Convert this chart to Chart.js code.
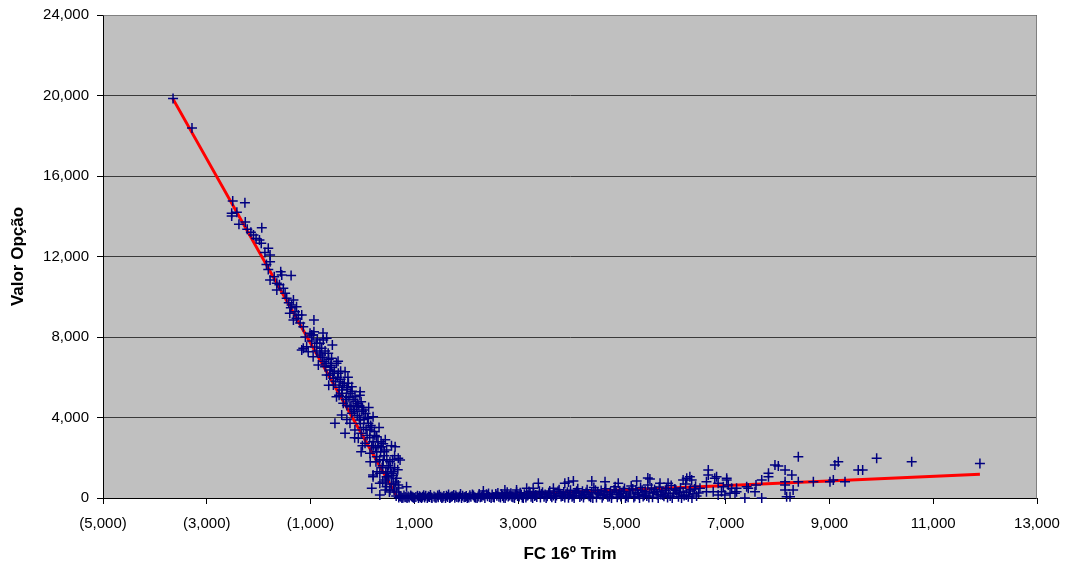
<!DOCTYPE html>
<html>
<head>
<meta charset="utf-8">
<title>Valor Opção vs FC 16º Trim</title>
<script src="https://cdn.jsdelivr.net/npm/chart.js@4/dist/chart.umd.min.js"></script>
<style>
  html, body { margin: 0; padding: 0; background: #ffffff; }
  #wrap { width: 1065px; height: 565px; position: relative; }
</style>
</head>
<body>
<div id="wrap"><canvas id="chart" width="1065" height="565"></canvas></div>
<script>
// Simulated option values against the 16th-quarter cash flow (steep, in-the-money side)
const steepX = [-3650,-3285,-2500,-2265,-2520,-2520,-2258,-2220,-1940,-2100,-1985,-1950,-1815,-1780,-1780,-1815,-1575,-1555,-1375,-1780,
  -1650,-1650,-1525,-1490,-1460,-1330,-1365,-1270,-1300,-1235,-1400,-1330,-1170,-1270,-935,-1140,-935,-980,-1075,-880,
  -1010,-950,-1140,-1045,-1170,-755,-690,-820,-785,-660,-950,-850,-595,-500,-720,-625,-335,-465,-690,-560,
  -430,-270,-560,-400,-205,-45,-500,-305,-145,-25,-370,-240,-110,25,-400,-205,205,-530,-240,-45,
  115,-335,-145,-25,145,275,-80,50,205,370,-25,145,275,465,630,400,530,690,725,205,
  335,465,595,660,180,335,465,530,335,850,690,205,
  -880,-800,-740,-610,-540,-420,-380,-300,-230,-180,-90,0,60,-60,100,160,20,230,90,300,
  180,350,420,260,500,380,560,440,600,520,650,620,480,580,400,250,-150,-300,-450,-650,
  -580,-1100,-1200,-1380,-1420,-1600,-1700,-1850,-1880,-2050,-2150,-2380,-2420,
  -980,-920,-870,-820,-770,-720,-700,-650,-630,-600,-570,-520,-480,-450,-420,-390,-350,-320,-290,-260,
  -220,-200,-170,-130,-100,-70,-40,-10,30,70,110,140,180,210,240,270,300,330,360,390,
  420,450,470,500,540,560,590,610,640,660,680,700,620,560,440,320,120,-50,-280,-470,
  -760,-300,-150,0,150,280,390,440];
const steepY = [19850,18390,14760,14670,14150,14010,13710,13350,13430,13070,12820,12660,12410,12070,11740,11360,11245,11080,11050,10830,
  10670,10335,10420,10170,9920,9840,9590,9505,9260,9090,9180,8845,9090,8930,8845,8510,8265,8100,7520,7690,
  8185,8100,7440,7270,7355,7850,7935,7690,7440,7190,7020,6610,6940,6690,6525,6360,6275,6195,6110,5950,
  5780,5700,5615,5365,5530,5280,5030,5030,5030,4785,4705,4535,4535,4370,4125,4205,4040,3710,3710,3875,
  3710,3215,3380,3215,3380,3045,2965,2720,2800,2550,2300,2220,2050,2385,2550,1890,1805,1970,1890,1140,
  1225,1060,1305,980,480,730,560,400,150,560,645,1060,
  7300,7100,6800,6600,6300,5900,5600,5400,5200,4900,4700,4500,4200,4000,3950,3600,3500,3300,3100,2800,
  2600,2300,2100,1800,1600,1500,1200,900,700,300,100,1500,1300,1900,2700,2500,4300,4600,5100,5600,
  7600,8000,8700,9450,9700,10600,11000,11600,12200,12900,13200,13600,14200,
  7800,7500,7900,7200,7000,7300,6700,6900,6100,6500,6200,5800,6000,5500,6300,5200,5700,4900,5500,5000,
  4600,5300,4400,4800,4100,4600,3700,4300,3900,3400,4000,3000,3500,2600,3100,2300,2600,1900,2800,1600,
  2300,1300,1900,1000,1500,700,1100,400,800,300,1400,500,2100,2600,2900,3500,4500,5100,6000,6800,
  8200,3900,3000,2600,1800,1300,800,400];

// Near-zero values once the cash flow turns positive
const floorX = [700,740,780,820,860,900,950,990,1030,1080,1120,1160,1200,1250,1290,1330,1380,1420,1460,1510,
  1550,1600,1640,1690,1730,1780,1820,1870,1910,1960,2000,2050,2090,2140,2180,2230,2270,2320,2360,2410,
  2450,2500,2540,2590,2630,2680,2720,2770,2810,2860,2900,2950,2990,3040,3080,3120,3170,3210,3250,3300,
  3340,3430,3470,3520,3560,3610,3650,3700,3740,3790,3830,3880,3920,3970,4010,4060,4100,4150,4190,4240,
  4280,4330,4370,4420,4460,4510,4550,4600,4640,4690,4730,4780,4820,4870,4910,4960,5000,5050,5090,5140,
  5180,5230,5270,5320,5360,5410,5450,5500,5540,5590,5630,5680,5720,5770,5810,5860,5900,5950,6040,6090,
  6130,6180,6230,6320,6370,6420,
  760,880,1000,1100,1220,1340,1450,1570,1680,1800,1930,2020,2120,2210,2300,2390,2480,2570,2660,2750,
  2840,2930,3020,3100,3190,3280,3360,3450,3540,3630,3720,3810,3900,3990,4080,4170,4260,4350,4440,4530,
  4620,4710,4800,4890,4980,5070,5160,5250,5340,5430,5520,5610,5700,5790,5880,5970,6060,6150,6240,6350,6440,
  720,800,840,930,970,1060,1140,1180,1270,1310,1400,1480,1530,1620,1660,1710,1760,1850,1890,1980,
  2070,2160,2250,2340,2430,2520,2610,2700,2790,2880,2970,3060,3150,3230,3320,3410,3500,3590,3680,3770,
  3860,3950,4040,4130,4220,4310,4400,4490,4580,4670,4760,4850,4940,5030,5120,5210,5300,5390,5480,5570,
  5660,5750,5840,5930,6020,6110,6200,6300,6400,6480];
const floorY = [20,60,10,40,0,30,70,15,45,5,35,60,20,0,50,25,80,10,40,65,
  20,0,55,30,90,15,45,70,5,35,100,20,60,130,10,75,40,150,0,90,
  55,170,25,110,60,200,15,130,80,230,40,160,95,260,30,190,110,320,60,240,
  150,20,280,180,90,350,40,230,130,410,70,300,190,10,380,120,260,460,50,330,
  170,410,90,280,520,20,210,370,130,460,60,300,190,560,40,350,230,470,100,300,
  600,20,400,170,520,80,330,650,250,40,420,180,550,300,90,470,220,620,380,60,
  500,280,700,420,200,580,
  0,80,0,90,110,0,120,100,0,130,110,0,180,0,60,190,0,200,20,0,
  120,0,80,0,140,0,50,200,0,110,0,210,20,160,0,230,30,180,0,260,
  10,170,0,280,80,0,200,90,0,140,30,260,0,150,30,0,200,0,150,0,100,
  100,120,50,130,40,110,0,140,70,150,30,160,0,110,180,60,150,20,200,50,
  140,40,200,120,220,50,250,100,280,60,300,150,20,230,100,330,60,240,130,330,
  100,280,60,340,110,270,40,380,170,320,80,400,180,340,40,450,260,380,100,500,
  320,170,380,100,450,300,120,350,450,250];

// Scattered right-hand tail
const tailX = [3390,3900,3680,2745,2970,3165,2330,3290,3970,4065,4420,4675,4930,5285,5540,5735,5500,5890,6180,6250,
  6345,6310,6665,6825,7020,6630,6505,6955,7180,6280,5990,7210,6760,6855,6665,6790,7020,6855,7050,7115,
  6630,6920,7085,7210,6985,7405,7435,7370,7585,7565,7695,7695,7825,7825,7950,8015,8145,8275,8145,8145,
  8400,8145,8300,8175,8240,8400,8690,9010,9075,9105,9170,9300,9555,9640,9910,10585,11900];
const tailY = [730,730,480,400,400,480,350,480,800,845,845,810,730,845,945,730,990,730,895,980,
  895,1060,1390,1060,895,810,480,560,230,65,230,480,315,150,1140,980,980,730,645,480,
  315,315,230,315,150,560,480,0,645,315,0,895,1060,1225,1640,1590,1390,1140,810,645,
  810,400,400,65,65,2050,810,810,895,1640,1805,810,1390,1390,1970,1805,1720];

// Fitted option-value curve
const fitX = [-3660, 680, 1200, 4700, 6500, 11900];
const fitY = [19870, 0, 20, 360, 560, 1180];

// Axis settings
const xMin = -5000, xMax = 13000, xStep = 2000;
const yMin = 0, yMax = 24000, yStep = 4000;

function pairs(xs, ys) {
  return xs.map((x, i) => ({ x: x, y: ys[i] }));
}
const scatterPoints = pairs(steepX, steepY).concat(pairs(floorX, floorY), pairs(tailX, tailY));
const fitPoints = pairs(fitX, fitY);

const fmt = v => Math.abs(v).toLocaleString('en-US');
const FONT = "'Liberation Sans', Arial, Helvetica, sans-serif";

// Grey plot background and frame
const plotFrame = {
  id: 'plotFrame',
  beforeDraw(chart) {
    const { ctx, chartArea: a } = chart;
    ctx.save();
    ctx.fillStyle = '#C0C0C0';
    ctx.fillRect(a.left, a.top, a.right - a.left, a.bottom - a.top);
    ctx.restore();
  },
  beforeDatasetsDraw(chart) {
    const { ctx, chartArea: a } = chart;
    ctx.save();
    ctx.strokeStyle = '#808080';
    ctx.lineWidth = 1;
    ctx.beginPath();
    ctx.moveTo(Math.round(a.left) + 0.5, Math.round(a.top) + 0.5);
    ctx.lineTo(Math.round(a.right) - 0.5, Math.round(a.top) + 0.5);
    ctx.lineTo(Math.round(a.right) - 0.5, Math.round(a.bottom) + 0.5);
    ctx.stroke();
    ctx.restore();
  }
};

new Chart(document.getElementById('chart'), {
  type: 'scatter',
  data: {
    datasets: [
      {
        label: 'Valor Opção',
        data: scatterPoints,
        pointStyle: 'cross',
        pointRadius: 5,
        pointBorderWidth: 1.5,
        borderColor: '#000080',
        backgroundColor: '#000080',
        showLine: false,
        clip: false
      },
      {
        label: 'Ajuste',
        data: fitPoints,
        showLine: true,
        borderColor: '#FF0000',
        borderWidth: 3,
        pointRadius: 0,
        tension: 0,
        fill: false
      }
    ]
  },
  options: {
    responsive: false,
    animation: false,
    events: [],
    layout: { padding: { top: 15, right: 28, left: 0, bottom: 0 } },
    plugins: {
      legend: { display: false },
      tooltip: { enabled: false }
    },
    scales: {
      x: {
        type: 'linear',
        min: xMin, max: xMax,
        afterFit(scale) {
          scale.height = 67;
          scale.paddingLeft = 0;
          scale.paddingRight = 0;
        },
        ticks: {
          stepSize: xStep,
          color: '#000',
          padding: 11,
          maxRotation: 0,
          font: { family: FONT, size: 15 },
          callback: v => v < 0 ? '(' + fmt(v) + ')' : fmt(v)
        },
        grid: {
          drawOnChartArea: false,
          drawTicks: true,
          tickLength: 6,
          tickColor: '#000',
          color: '#000'
        },
        border: { display: true, color: '#000', width: 1 },
        title: {
          display: true,
          text: 'FC 16º Trim',
          color: '#000',
          font: { family: FONT, size: 17, weight: 'bold' },
          padding: { top: 3, bottom: 0 }
        }
      },
      y: {
        type: 'linear',
        min: yMin, max: yMax,
        afterFit(scale) {
          scale.width = 103;
          scale.paddingTop = 0;
          scale.paddingBottom = 0;
        },
        ticks: {
          stepSize: yStep,
          color: '#000',
          padding: 8,
          font: { family: FONT, size: 15 },
          callback: v => fmt(v)
        },
        grid: {
          color: '#3a3a3a',
          lineWidth: 1,
          drawTicks: true,
          tickLength: 6,
          tickColor: '#000'
        },
        border: { display: true, color: '#000', width: 1 },
        title: {
          display: true,
          text: 'Valor Opção',
          color: '#000',
          font: { family: FONT, size: 17, weight: 'bold' },
          padding: { top: 8, bottom: 0 }
        }
      }
    }
  },
  plugins: [plotFrame]
});
</script>
</body>
</html>
